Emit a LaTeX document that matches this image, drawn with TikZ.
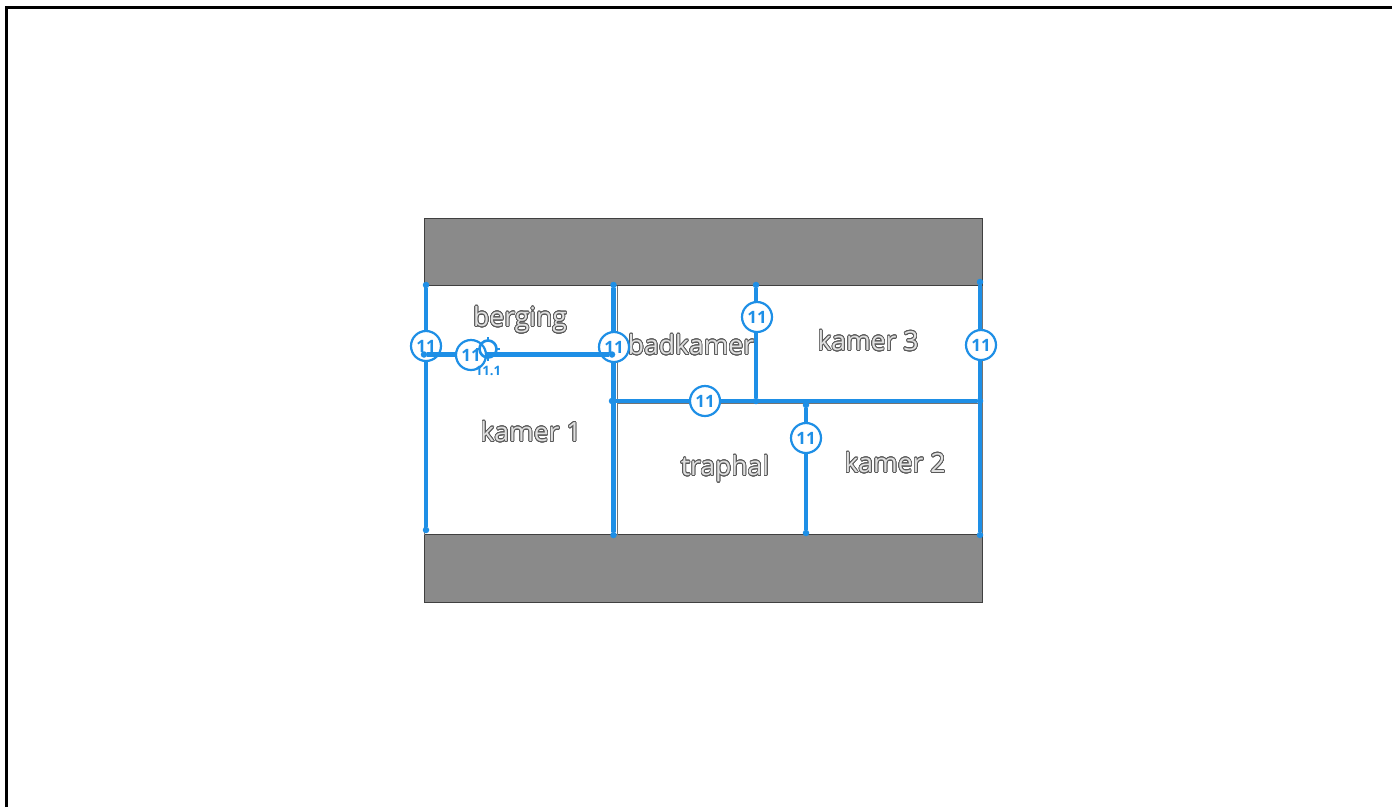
\documentclass[tikz,border=0pt]{standalone}
\usepackage{fontspec}
\usepackage[copies]{contour}
\setmainfont{Open Sans}
\contourlength{0.7pt}
\contournumber{24}

\definecolor{wallblue}{HTML}{1E8FE6}
\definecolor{bandgray}{HTML}{8A8A8A}

\newcommand{\roomtext}[1]{\contour{black!65}{\textcolor{white!88!black}{#1}}}

\begin{document}
\begin{tikzpicture}
    [x=1pt, y=-1pt, outer sep = 0pt,
    band/.style={draw=black!75, fill=bandgray, line width=0.9pt},
    room/.style={draw=black!55, line width=1pt},
    wall/.style={draw=wallblue, line width=4.6pt},
    bubble/.style={circle, draw=wallblue, fill=white, line width=2.2pt,
      minimum size=30pt, inner sep=0pt, text=wallblue,
      font=\fontsize{17}{17}\selectfont\bfseries},
    enddot/.style={circle, fill=wallblue, minimum size=6.5pt, inner sep=0pt},
    roomlabel/.style={font=\fontsize{26.5}{26.5}\selectfont, inner sep=0pt}]

    \useasboundingbox (0,0) rectangle (1392,807);
    \fill [white] (0,0) rectangle (1392,807);

    % page frame
    \coordinate (frame_sw) at (6,807);
    \coordinate (frame_nw) at (6,7);
    \coordinate (frame_ne) at (1392,7);
    \draw [black, line width=3pt] (frame_sw) -- (frame_nw) -- (frame_ne);

    % plan
    \node [band, minimum width=557.5pt, minimum height=67.5pt, anchor=north west] (band_top) at (424.5,218) {};
    \node [band, minimum width=557.5pt, minimum height=67.5pt, anchor=north west] (band_bottom) at (424.5,534.5) {};
    \draw [room] (band_top.south west) -- (band_bottom.north west);
    \draw [room] (band_top.south east) -- (band_bottom.north east);
    \coordinate (thin_a) at (617.5,286);
    \coordinate (thin_b) at (617.5,535);
    \coordinate (thin_c) at (982,403.5);
    \draw [room] (thin_a) -- (thin_b);
    \draw [room] (thin_b |- thin_c) -- (thin_c);

    % room names
    \node [roomlabel] (berging) at (520,320) {\roomtext{berging}};
    \node [roomlabel] (badkamer) at (691,345) {\roomtext{badkamer}};
    \node [roomlabel] (kamer3) at (868,341) {\roomtext{kamer 3}};
    \node [roomlabel] (kamer1) at (531,432) {\roomtext{kamer 1}};
    \node [roomlabel] (traphal) at (725,469) {\roomtext{traphal}};
    \node [roomlabel] (kamer2) at (895,463) {\roomtext{kamer 2}};

    % wall ends
    \foreach \wname/\wx/\wy in {la/426/285, lb/426/530, ma/613.5/285, mb/613.5/535,
      ba/424/354.5, bb/612/354.5, ca/612/401, cb/980/401, da/756/285, db/756/401,
      ea/806/405, eb/806/533, ra/980/282, rb/980/535}
      \node [enddot] (\wname) at (\wx,\wy) {};

    \draw [wall] (la) -- (lb);
    \draw [wall] (ma) -- (mb);
    \draw [wall] (ca) -- (cb);
    \draw [wall] (da) -- (db);
    \draw [wall] (ea) -- (eb);
    \draw [wall] (ra) -- (rb);

    % bubbles under the berging wall
    \node [bubble] (tag_l) at (426,346) {11};
    \node [bubble] (tag_m) at (614,347) {11};
    \node [enddot] (ba_top) at (ba) {};
    \node [enddot] (bb_top) at (bb) {};
    \draw [wall] (ba_top) -- (bb_top);

    \node [bubble] (tag_b) at (471,355) {11};
    \node [bubble] (tag_d) at (757,317) {11};
    \node [bubble] (tag_c) at (705,401) {11};
    \node [bubble] (tag_e) at (806,438) {11};
    \node [bubble] (tag_r) at (981,345) {11};

    % marker
    \node [circle, draw=wallblue, line width=2.6pt, minimum size=17pt, inner sep=0pt] (marker) at (488,349) {};
    \foreach \ang in {0,90,180,270}
      \draw [wallblue, line width=2.6pt] (marker.\ang) -- ++(\ang:3.5pt);
    \node [text=wallblue, font=\fontsize{13}{13}\selectfont\bfseries, inner sep=0pt] (marker_label) at (488,371) {11.1};
  \end{tikzpicture}
\end{document}
